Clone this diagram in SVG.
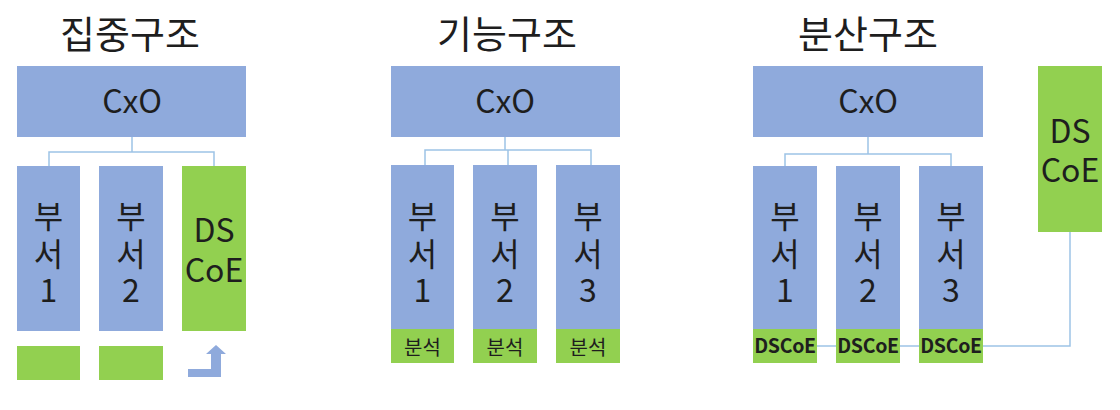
<svg xmlns="http://www.w3.org/2000/svg" width="1120" height="410" viewBox="0 0 1120 410">
<style>
.bg{fill:#ffffff}
.blue{fill:#8faadc}
.green{fill:#92d050}
.t{font-family:"Noto Sans CJK KR","Noto Sans",sans-serif;fill:#1e1e1e;text-anchor:middle}
.title{font-size:38px}
.cxo{font-size:32px}
.dept{font-size:32px}
.small{font-size:20px}
.sm2{font-size:19.5px;font-weight:bold;letter-spacing:-0.3px}
.conn{fill:none;stroke:#9dc3e6;stroke-width:1.5}
</style>
<rect class="bg" x="0" y="0" width="1120" height="410"/>

<g id="connectors">
  <path class="conn" d="M132 137V152M49 166V152H214V166"/>
  <path class="conn" d="M505 137V150M425 165V150H591V165M508 150V165"/>
  <path class="conn" d="M868 137V154M785 166V154H951V166"/>
  <path class="conn" d="M817 346H836M900 346H919M983 346H1070V232"/>
</g>

<g id="title1"><text class="t title" x="130" y="48">집중구조</text></g>
<g id="title2"><text class="t title" x="507" y="48">기능구조</text></g>
<g id="title3"><text class="t title" x="868" y="48">분산구조</text></g>

<g id="cxo1"><rect class="blue" x="17" y="66" width="229" height="71"/><text class="t cxo" x="132" y="113">CxO</text></g>
<g id="dept1-1"><rect class="blue" x="17" y="166" width="63" height="165"/>
  <text class="t dept" x="48.5" y="228">부</text><text class="t dept" x="48.5" y="266">서</text><text class="t dept" x="48.5" y="302">1</text></g>
<g id="dept1-2"><rect class="blue" x="99" y="166" width="64" height="165"/>
  <text class="t dept" x="131" y="228">부</text><text class="t dept" x="131" y="266">서</text><text class="t dept" x="131" y="302">2</text></g>
<g id="dscoe1"><rect class="green" x="182" y="166" width="64" height="165"/>
  <text class="t dept" x="214" y="242">DS</text><text class="t dept" x="214" y="282">CoE</text></g>
<g id="green1-1"><rect class="green" x="17" y="346" width="63" height="34"/></g>
<g id="green1-2"><rect class="green" x="99" y="346" width="64" height="34"/></g>
<g id="arrow1"><polygon class="blue" points="188,369 211,369 211,354 206,354 216,345 226,354 221,354 221,377 188,377"/></g>

<g id="cxo2"><rect class="blue" x="391" y="66" width="229" height="71"/><text class="t cxo" x="505" y="113">CxO</text></g>
<g id="dept2-1"><rect class="blue" x="391" y="165" width="63" height="164"/><rect class="green" x="391" y="329" width="63" height="34"/>
  <text class="t dept" x="422.5" y="228">부</text><text class="t dept" x="422.5" y="266">서</text><text class="t dept" x="422.5" y="302">1</text>
  <text class="t small" x="422.5" y="355">분석</text></g>
<g id="dept2-2"><rect class="blue" x="473" y="165" width="64" height="164"/><rect class="green" x="473" y="329" width="64" height="34"/>
  <text class="t dept" x="505" y="228">부</text><text class="t dept" x="505" y="266">서</text><text class="t dept" x="505" y="302">2</text>
  <text class="t small" x="505" y="355">분석</text></g>
<g id="dept2-3"><rect class="blue" x="556" y="165" width="64" height="164"/><rect class="green" x="556" y="329" width="64" height="34"/>
  <text class="t dept" x="588" y="228">부</text><text class="t dept" x="588" y="266">서</text><text class="t dept" x="588" y="302">3</text>
  <text class="t small" x="588" y="355">분석</text></g>

<g id="cxo3"><rect class="blue" x="753" y="66" width="230" height="71"/><text class="t cxo" x="868" y="113">CxO</text></g>
<g id="dept3-1"><rect class="blue" x="753" y="166" width="64" height="163"/><rect class="green" x="753" y="329" width="64" height="34"/>
  <text class="t dept" x="785" y="228">부</text><text class="t dept" x="785" y="266">서</text><text class="t dept" x="785" y="302">1</text>
  <text class="t sm2" x="785" y="353">DSCoE</text></g>
<g id="dept3-2"><rect class="blue" x="836" y="166" width="64" height="163"/><rect class="green" x="836" y="329" width="64" height="34"/>
  <text class="t dept" x="868" y="228">부</text><text class="t dept" x="868" y="266">서</text><text class="t dept" x="868" y="302">2</text>
  <text class="t sm2" x="868" y="353">DSCoE</text></g>
<g id="dept3-3"><rect class="blue" x="919" y="166" width="64" height="163"/><rect class="green" x="919" y="329" width="64" height="34"/>
  <text class="t dept" x="951" y="228">부</text><text class="t dept" x="951" y="266">서</text><text class="t dept" x="951" y="302">3</text>
  <text class="t sm2" x="951" y="353">DSCoE</text></g>
<g id="dscoe3"><rect class="green" x="1038" y="66" width="64" height="166"/>
  <text class="t dept" x="1070" y="143">DS</text><text class="t dept" x="1070" y="182">CoE</text></g>
</svg>
